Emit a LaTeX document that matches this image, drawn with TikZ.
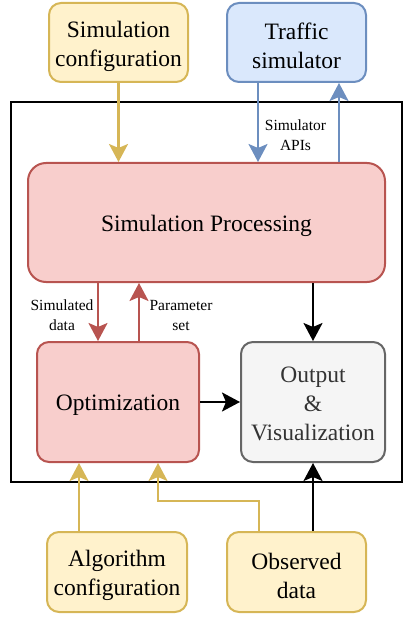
\documentclass[tikz,border=0pt]{standalone}
\usepackage{fontspec}
\setmainfont{Liberation Serif}
\usetikzlibrary{arrows.meta,calc}
\definecolor{yfill}{HTML}{FFF2CC}\definecolor{ydraw}{HTML}{D6B656}
\definecolor{bfill}{HTML}{DAE8FC}\definecolor{bdraw}{HTML}{6C8EBF}
\definecolor{rfill}{HTML}{F8CECC}\definecolor{rdraw}{HTML}{B85450}
\definecolor{gfill}{HTML}{F5F5F5}\definecolor{gdraw}{HTML}{666666}
\definecolor{gtext}{HTML}{333333}
\begin{document}
\begin{tikzpicture}[x=1pt,y=-1pt,
  box/.style={rectangle,rounded corners=12pt,line width=2pt,inner sep=0pt},
  ybox/.style={box,fill=yfill,draw=ydraw},
  bbox/.style={box,fill=bfill,draw=bdraw},
  rbox/.style={box,fill=rfill,draw=rdraw},
  gbox/.style={box,fill=gfill,draw=gdraw},
  txt/.style={align=center,inner sep=0pt,font=\fontsize{23.5}{29}\selectfont},
  arr/.style={line width=2.2pt,-{Stealth[length=18pt,width=19pt,inset=4pt]}},
  lbl/.style={align=center,font=\fontsize{15.5}{20}\selectfont,inner sep=0pt}]
\useasboundingbox (0,0) rectangle (406,620);
\node[draw,line width=2pt,minimum width=391pt,minimum height=380pt] (outer) at (206.5,292) {};
\node[ybox,minimum width=139pt,minimum height=79pt] (simcfg) at (118.5,42.5) {};
\node[txt] (simcfgT) at ([yshift=-3.5pt]simcfg.center) {Simulation\\configuration};
\node[bbox,minimum width=139pt,minimum height=79pt] (traffic) at (296.5,42.5) {};
\node[txt] (trafficT) at ([yshift=-3.5pt]traffic.center) {Traffic\\simulator};
\node[rbox,rounded corners=18pt,minimum width=357pt,minimum height=119pt] (proc) at (206.5,222.5) {};
\node[txt] (procT) at ([yshift=-3pt]proc.center) {Simulation Processing};
\node[rbox,minimum width=162pt,minimum height=120pt] (opt) at (118,402) {};
\node[txt] (optT) at ([yshift=-3pt]opt.center) {Optimization};
\node[gbox,minimum width=144pt,minimum height=120pt] (out) at (313,402) {};
\node[txt,text=gtext] (outT) at ([yshift=-2pt]out.center) {Output\\\&\\Visualization};
\node[ybox,minimum width=140pt,minimum height=80pt] (alg) at (117,572) {};
\node[txt] (algT) at ([yshift=-3.5pt]alg.center) {Algorithm\\configuration};
\node[ybox,minimum width=139pt,minimum height=80pt] (obs) at (296.5,572) {};
\node[txt] (obsT) at ([yshift=-3.5pt]obs.center) {Observed\\data};
% arrows
\draw[arr,draw=ydraw] (simcfg.south) -- (simcfg.south |- proc.north);
\draw[arr,draw=bdraw] ([xshift=-38.5pt]traffic.south) -- ([xshift=-38.5pt]traffic.south |- proc.north);
\draw[arr,draw=bdraw] ([xshift=42.5pt]traffic.south |- proc.north) -- ([xshift=42.5pt]traffic.south);
\node[lbl] (apis) at (295.5,135) {Simulator\\APIs};
\draw[arr,draw=rdraw] ([xshift=-20pt]opt.north |- proc.south) -- ([xshift=-20pt]opt.north);
\draw[arr,draw=rdraw] ([xshift=21pt]opt.north) -- ([xshift=21pt]opt.north |- proc.south);
\node[lbl] (simdata) at (62,315) {Simulated\\data};
\node[lbl] (param) at (181,315) {Parameter\\set};
\draw[arr] (out.north |- proc.south) -- (out.north);
\draw[arr] (opt.east) -- (out.west);
\draw[arr,draw=ydraw] ([xshift=-38pt]alg.north) -- ([xshift=-38pt]alg.north |- opt.south);
\coordinate (bend) at ($([xshift=-37.5pt]obs.north)+(0,-30)$);
\draw[arr,draw=ydraw] ([xshift=-37.5pt]obs.north) -- (bend) -- ([xshift=40pt]opt.south |- bend) -- ([xshift=40pt]opt.south);
\draw[arr] (out.south |- obs.north) -- (out.south);
\end{tikzpicture}
\end{document}
